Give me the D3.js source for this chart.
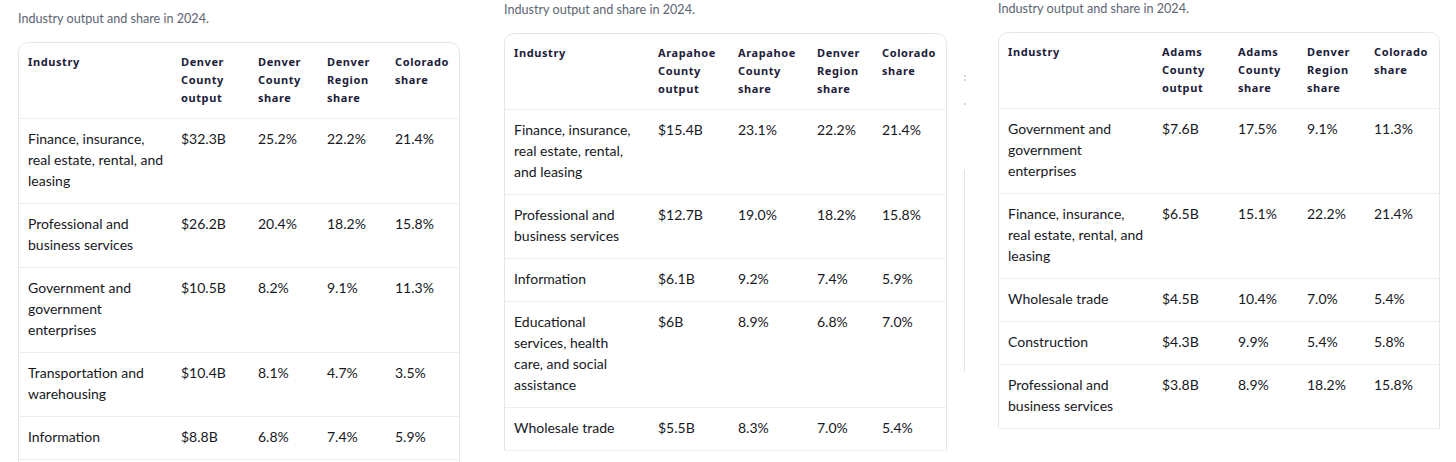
<!DOCTYPE html>
<html>
<head>
<meta charset="utf-8">
<script src="https://cdn.jsdelivr.net/npm/d3@7"></script>
<style>
	body { margin: 0; background: #fff; }
	svg { display: block; }
	.caption { font-family: Lato, sans-serif; font-size: 12.6px; fill: #5d6572; }
	.head { font-family: "Noto Sans", sans-serif; font-weight: 700; font-size: 11px; letter-spacing: 0.6px; fill: #1b2039; }
	.cell { font-family: Lato, sans-serif; font-size: 14px; fill: #16181d; }
</style>
</head>
<body>
<script>
//caption shared by the three tables
var captionText = "Industry output and share in 2024.";

//Denver County
var denverColumns = ["Industry", "Denver County output", "Denver County share", "Denver Region share", "Colorado share"];
var denverIndustries = ["Finance, insurance, real estate, rental, and leasing", "Professional and business services", "Government and government enterprises", "Transportation and warehousing", "Information"];
var denverOutput = [32.3, 26.2, 10.5, 10.4, 8.8];
var denverCountyShare = [25.2, 20.4, 8.2, 8.1, 6.8];
var denverRegionShare = [22.2, 18.2, 9.1, 4.7, 7.4];
var denverColoradoShare = [21.4, 15.8, 11.3, 3.5, 5.9];

//Arapahoe County
var arapahoeColumns = ["Industry", "Arapahoe County output", "Arapahoe County share", "Denver Region share", "Colorado share"];
var arapahoeIndustries = ["Finance, insurance, real estate, rental, and leasing", "Professional and business services", "Information", "Educational services, health care, and social assistance", "Wholesale trade"];
var arapahoeOutput = [15.4, 12.7, 6.1, 6, 5.5];
var arapahoeCountyShare = [23.1, 19.0, 9.2, 8.9, 8.3];
var arapahoeRegionShare = [22.2, 18.2, 7.4, 6.8, 7.0];
var arapahoeColoradoShare = [21.4, 15.8, 5.9, 7.0, 5.4];

//Adams County
var adamsColumns = ["Industry", "Adams County output", "Adams County share", "Denver Region share", "Colorado share"];
var adamsIndustries = ["Government and government enterprises", "Finance, insurance, real estate, rental, and leasing", "Wholesale trade", "Construction", "Professional and business services"];
var adamsOutput = [7.6, 6.5, 4.5, 4.3, 3.8];
var adamsCountyShare = [17.5, 15.1, 10.4, 9.9, 8.9];
var adamsRegionShare = [9.1, 22.2, 7.0, 5.4, 18.2];
var adamsColoradoShare = [11.3, 21.4, 5.4, 5.8, 15.8];

window.onload = setTables();

function setTables(){

	var width = 1456,
		height = 462;

	var svg = d3.select("body")
		.append("svg")
		.attr("width", width)
		.attr("height", height);

	svg.append("rect")
		.attr("width", width)
		.attr("height", height)
		.attr("fill", "#fff");

	//hidden text node used to measure words for wrapping
	var measure = svg.append("text").attr("visibility", "hidden");
	function textWidth(str, cls){
		measure.attr("class", cls).text(str);
		return measure.node().getComputedTextLength();
	}
	function wrap(str, maxW, cls){
		var words = str.split(" "), lines = [], line = words[0];
		for (var i = 1; i < words.length; i++){
			var t = line + " " + words[i];
			if (textWidth(t, cls) <= maxW) line = t;
			else { lines.push(line); line = words[i]; }
		}
		lines.push(line);
		return lines;
	}

	var pct = d3.format(".1f");
	var money = function(v){ return "$" + v + "B"; };

	var tables = [
		{x: 18, y: 42, widths: [153, 77, 69, 68, 75], wrapW: 140, extend: 14,
			columns: denverColumns, industries: denverIndustries, output: denverOutput,
			county: denverCountyShare, region: denverRegionShare, colorado: denverColoradoShare},
		{x: 504, y: 33, widths: [144, 80, 79, 65, 75], wrapW: 124, extend: 0,
			columns: arapahoeColumns, industries: arapahoeIndustries, output: arapahoeOutput,
			county: arapahoeCountyShare, region: arapahoeRegionShare, colorado: arapahoeColoradoShare},
		{x: 998, y: 32, widths: [154, 76, 69, 67, 76], wrapW: 140, extend: 0,
			columns: adamsColumns, industries: adamsIndustries, output: adamsOutput,
			county: adamsCountyShare, region: adamsRegionShare, colorado: adamsColoradoShare}
	];

	tables.forEach(drawTable);

	//faint scrollbar remnant between second and third table
	svg.append("line")
		.attr("x1", 964.5).attr("x2", 964.5)
		.attr("y1", 170).attr("y2", 372)
		.attr("stroke", "#e4e4e4");
	svg.selectAll(".dot")
		.data([75, 79, 103])
		.enter()
		.append("rect")
		.attr("x", 964).attr("y", function(d){ return d; })
		.attr("width", 1.5).attr("height", 2)
		.attr("fill", "#d0d0d0");

	function drawTable(t){
		var g = svg.append("g");
		var totalW = d3.sum(t.widths);

		//column scale: index -> left text edge
		var starts = [0].concat(Array.from(d3.cumsum(t.widths.slice(0, -1))));
		var colX = d3.scaleOrdinal()
			.domain(d3.range(t.widths.length))
			.range(starts.map(function(s){ return t.x + s + 10; }));

		//header lines
		var headLines = t.columns.map(function(c, i){
			return wrap(c, t.widths[i] - 18, "head");
		});
		var headH = 18 * d3.max(headLines, function(d){ return d.length; }) + 22;

		//body rows
		var rows = t.industries.map(function(name, i){
			return [
				wrap(name, t.wrapW, "cell"),
				[money(t.output[i])],
				[pct(t.county[i]) + "%"],
				[pct(t.region[i]) + "%"],
				[pct(t.colorado[i]) + "%"]
			];
		});
		var rowH = rows.map(function(r){ return 21 * r[0].length + 22; });
		var rowTop = [t.y + headH].concat(Array.from(d3.cumsum(rowH)).map(function(h){ return t.y + headH + h; }));
		var bottom = rowTop[rows.length] + t.extend;

		//card outline, rounded at the top only
		var r = 11, x0 = t.x + 0.5, x1 = t.x + totalW - 0.5, y0 = t.y + 0.5;
		g.append("path")
			.attr("d", "M" + x0 + "," + bottom +
				"V" + (y0 + r) + "Q" + x0 + "," + y0 + " " + (x0 + r) + "," + y0 +
				"H" + (x1 - r) + "Q" + x1 + "," + y0 + " " + x1 + "," + (y0 + r) +
				"V" + bottom)
			.attr("fill", "#fff")
			.attr("stroke", "#e3e5e9");

		//caption
		g.append("text")
			.attr("class", "caption")
			.attr("x", t.x)
			.attr("y", t.y - 19)
			.text(captionText);

		//dividers under header and every row
		g.selectAll(".divider")
			.data(rowTop)
			.enter()
			.append("line")
			.attr("x1", x0).attr("x2", x1)
			.attr("y1", function(d){ return Math.round(d) + 0.5; })
			.attr("y2", function(d){ return Math.round(d) + 0.5; })
			.attr("stroke", "#eceef1");

		//header text
		headLines.forEach(function(lines, i){
			g.append("text")
				.attr("class", "head")
				.selectAll("tspan")
				.data(lines)
				.enter()
				.append("tspan")
				.attr("x", colX(i))
				.attr("y", function(d, j){ return t.y + 20 + 18 * j; })
				.attr("dy", "0.36em")
				.text(function(d){ return d; });
		});

		//body cells
		rows.forEach(function(row, ri){
			row.forEach(function(lines, ci){
				g.append("text")
					.attr("class", "cell")
					.selectAll("tspan")
					.data(lines)
					.enter()
					.append("tspan")
					.attr("x", colX(ci))
					.attr("y", function(d, j){ return rowTop[ri] + 21 + 21 * j; })
					.attr("dy", "0.36em")
					.text(function(d){ return d; });
			});
		});
	};
};
</script>
</body>
</html>
